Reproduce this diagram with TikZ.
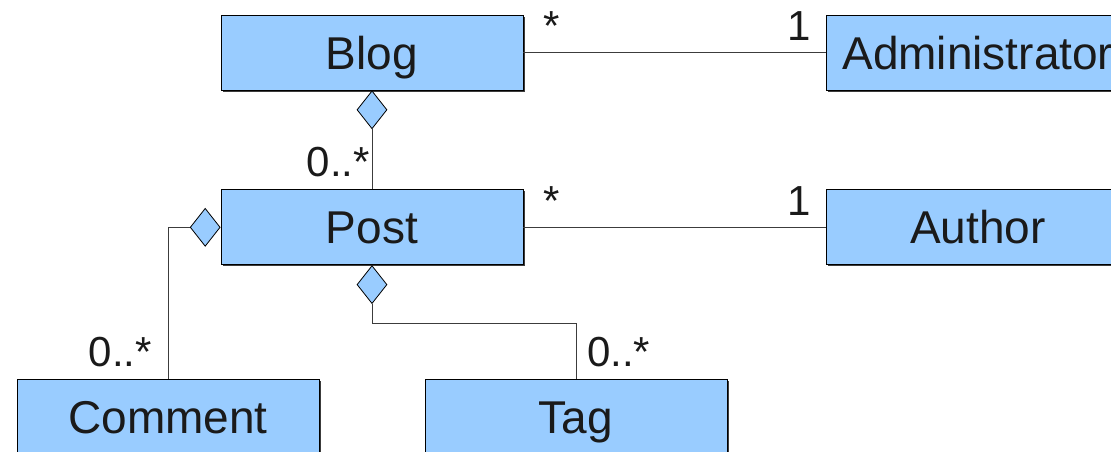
\documentclass[tikz,border=0pt]{standalone}
\usepackage{fontspec}
\setmainfont{Liberation Sans}
\usetikzlibrary{positioning}
\usetikzlibrary{shapes.geometric}
\usetikzlibrary{shadows}
\definecolor{umlblue}{RGB}{153,204,255}
\definecolor{umlline}{RGB}{60,60,60}
\definecolor{umltext}{RGB}{26,26,26}
\tikzset{
  umlclass/.style={draw=black, fill=umlblue, line width=0.8pt,
    minimum width=302pt, minimum height=75pt, inner sep=0pt,
    text height=33pt, text depth=0pt, text=umltext,
    font=\fontsize{46}{50}\selectfont,
    drop shadow={shadow xshift=1.5pt, shadow yshift=-1.5pt, fill=umlline, opacity=1}},
  aggr/.style={diamond, draw=black, fill=umlblue, line width=0.8pt,
    minimum width=30pt, minimum height=38pt, inner sep=0pt},
  mult/.style={inner sep=0pt, text=umltext, font=\fontsize{42}{46}\selectfont},
  assoc/.style={draw=umlline, line width=1pt}
}

\begin{document}
\begin{tikzpicture}[x=1pt, y=-1pt]
    \clip (0,0) rectangle (1111,451);

    \node [umlclass] (blog) at (372,52.5) {Blog};
    \node [umlclass, right=303pt of blog] (admin) {Administrator};
    \node [umlclass, below=99pt of blog] (post) {Post};
    \node [umlclass, right=303pt of post] (author) {Author};
    \node [umlclass, below=114pt of post, xshift=-204pt] (comment) {Comment};
    \node [umlclass, below=114pt of post, xshift=204pt] (tag) {Tag};

    \node [aggr, below=0pt of blog] (blogdia) {};
    \node [aggr, left=0pt of post] (commentdia) {};
    \node [aggr, below=0pt of post] (tagdia) {};

    \draw [assoc] (blog) -- (admin);
    \draw [assoc] (post) -- (author);
    \draw [assoc] (blogdia.south) -- (post.north);
    \draw [assoc] (commentdia.west) -| (comment.north);
    \draw [assoc] (tagdia.south) -- ++(0,19) -| (tag.north);

    % multiplicities
    \node [mult, anchor=base west, xshift=20pt, yshift=-26pt] (blogmult) at (blog.north east) {*};
    \node [mult, anchor=base east, xshift=-15pt, yshift=-26pt] (adminmult) at (admin.north west) {1};
    \node [mult, anchor=base west, xshift=20pt, yshift=-26pt] (postmult) at (post.north east) {*};
    \node [mult, anchor=base east, xshift=-15pt, yshift=-26pt] (authormult) at (author.north west) {1};
    \node [mult, anchor=base east, xshift=-2pt, yshift=13pt] (postsmult) at (post.north) {0..*};
    \node [mult, anchor=base east, xshift=-16pt, yshift=13pt] (commentmult) at (comment.north) {0..*};
    \node [mult, anchor=base west, xshift=11pt, yshift=13pt] (tagmult) at (tag.north) {0..*};
\end{tikzpicture}
\end{document}
